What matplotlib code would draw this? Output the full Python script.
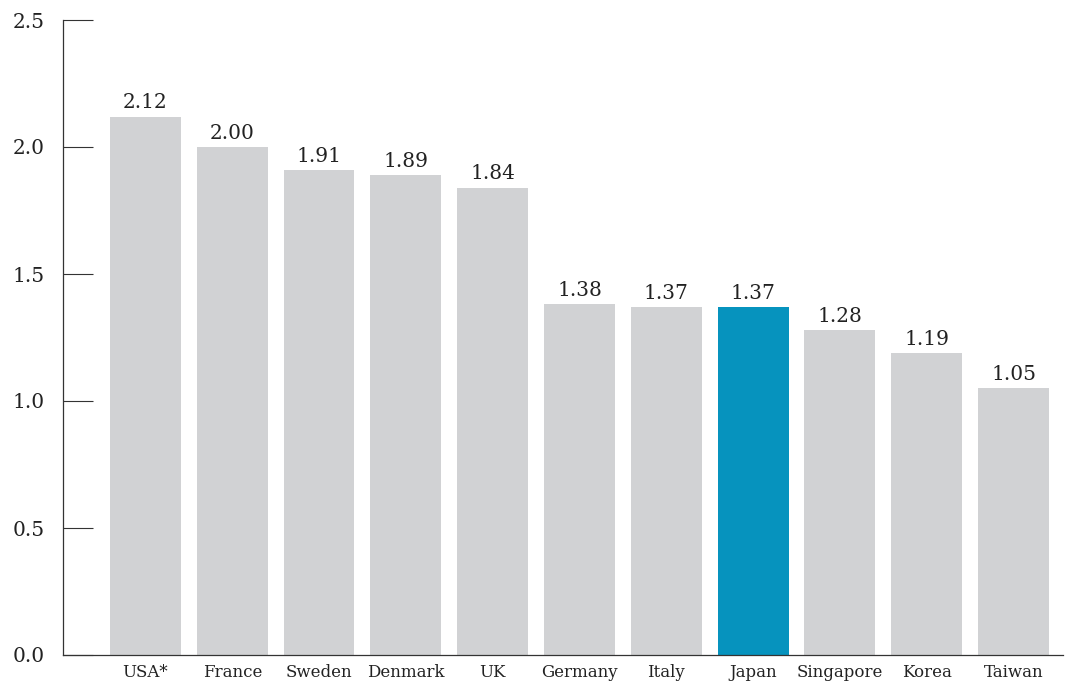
import matplotlib
matplotlib.use("Agg")
import matplotlib.pyplot as plt

countries = ["USA*", "France", "Sweden", "Denmark", "UK", "Germany",
             "Italy", "Japan", "Singapore", "Korea", "Taiwan"]
values = [2.12, 2.00, 1.91, 1.89, 1.84, 1.38, 1.37, 1.37, 1.28, 1.19, 1.05]
highlight = "Japan"
yticks = [0.0, 0.5, 1.0, 1.5, 2.0, 2.5]

plt.rcParams['font.family'] = ['DejaVu Serif']
text_color = '#222222'

fig = plt.figure(figsize=(10.68, 6.83), dpi=100)
ax = fig.add_axes([63 / 1068, 1 - 655 / 683, 1000 / 1068, 635 / 683])

colors = ['#0693be' if c == highlight else '#d1d2d4' for c in countries]
x = range(len(countries))
bars = ax.bar(x, values, width=0.816, color=colors)

for b, v in zip(bars, values):
    ax.annotate(f"{v:.2f}", (b.get_x() + b.get_width() / 2, v),
                xytext=(0, 3), textcoords='offset points',
                ha='center', va='bottom', fontsize=14.5, color=text_color)

ax.set_xlim(-0.95, 10.57)
ax.set_ylim(0, 2.5)
ax.set_yticks(yticks)
ax.set_yticklabels([f"{t:.1f}" for t in yticks])
ax.set_xticks(list(x))
ax.set_xticklabels(countries)

ax.tick_params(axis='y', direction='in', length=21.5, width=0.8,
               color='#333333', pad=13, labelsize=14.5, labelcolor=text_color)
ax.tick_params(axis='x', length=0, pad=6.5, labelsize=12, labelcolor=text_color)

for s in ['top', 'right']:
    ax.spines[s].set_visible(False)
for s in ['left', 'bottom']:
    ax.spines[s].set_color('#333333')
    ax.spines[s].set_linewidth(0.9)

fig.savefig("out.png", dpi=100)
